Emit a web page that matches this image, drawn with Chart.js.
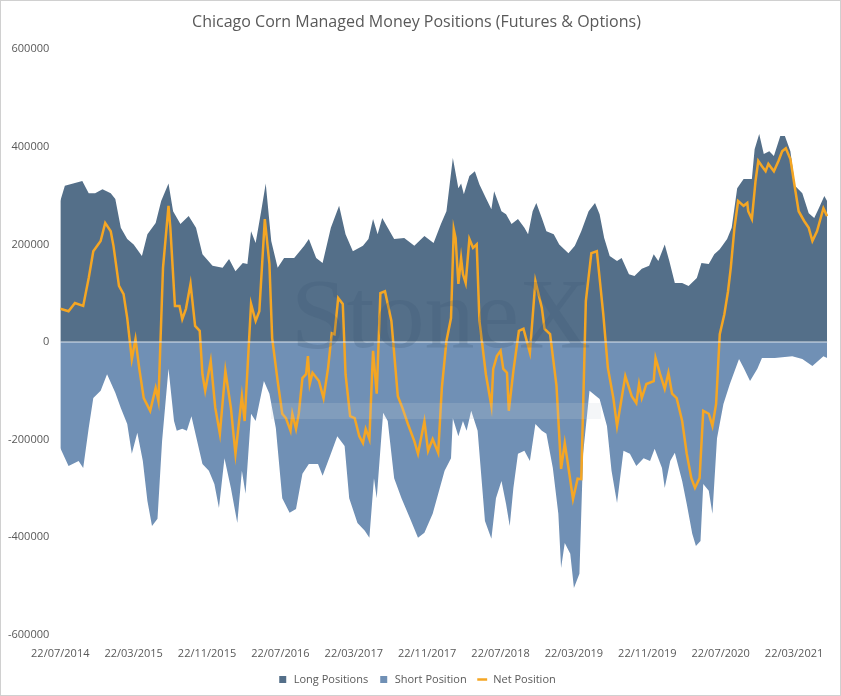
<!DOCTYPE html>
<html>
<head>
<meta charset="utf-8">
<script src="https://cdn.jsdelivr.net/npm/chart.js@4"></script>
<style>
  html, body { margin: 0; padding: 0; background: #fff; }
  #wrap { width: 839px; height: 694px; border: 1px solid #d0d0d0; }
</style>
</head>
<body>
<div id="wrap"><canvas id="chart" width="839" height="694"></canvas></div>
<script>
// x values are months since 22/07/2014
const tickLabels = ["22/07/2014", "22/03/2015", "22/11/2015", "22/07/2016", "22/03/2017", "22/11/2017",
    "22/07/2018", "22/03/2019", "22/11/2019", "22/07/2020", "22/03/2021"];

const longMonths = [0, 0.5, 1.4, 2.4, 3.1, 3.8, 4.6, 5.5, 6.0, 6.6, 7.3, 8.0, 8.9, 9.5, 10.4, 11.0, 11.8, 12.3, 13.1, 14.0,
    14.8, 15.5, 16.6, 17.7, 18.4, 19.1, 19.9, 20.4, 20.8, 21.3, 21.9, 22.4, 23.0, 23.7, 24.4, 25.5, 26.6, 27.1,
    27.9, 28.6, 29.5, 30.4, 31.1, 31.9, 33.0, 33.6, 34.1, 34.6, 35.1, 35.7, 36.4, 37.5, 38.6, 39.7, 40.7, 41.5,
    42.1, 42.8, 43.4, 43.7, 44.0, 44.6, 45.2, 45.7, 46.4, 47.0, 47.3, 48.1, 48.6, 49.2, 49.9, 50.6, 51.0, 51.5,
    51.9, 52.5, 53.0, 53.8, 54.4, 55.4, 56.1, 56.8, 57.6, 58.3, 58.8, 59.3, 59.9, 60.7, 61.2, 62.0, 62.6, 63.4,
    64.2, 64.7, 65.2, 65.9, 66.4, 67.0, 67.8, 68.5, 69.4, 69.9, 70.7, 71.3, 71.9, 72.7, 73.2, 73.8, 74.5, 75.4,
    75.7, 76.2, 76.7, 77.3, 77.8, 78.5, 79.0, 79.6, 80.1, 80.9, 81.6, 82.2, 82.7, 83.3, 83.6];
const longValues = [289, 320, 325, 330, 305, 305, 313, 305, 293, 234, 211, 200, 176, 221, 244, 289, 325, 268, 242, 258,
    234, 180, 156, 152, 170, 145, 162, 160, 227, 203, 268, 325, 207, 152, 172, 172, 197, 211,
    172, 162, 234, 279, 221, 186, 197, 211, 252, 221, 254, 234, 211, 213, 197, 217, 203, 242,
    268, 377, 315, 325, 303, 340, 350, 323, 295, 272, 309, 268, 262, 242, 252, 234, 221, 268,
    285, 254, 227, 221, 200, 182, 197, 227, 268, 285, 262, 213, 176, 166, 172, 139, 135, 150,
    156, 180, 166, 200, 166, 121, 121, 115, 131, 162, 160, 180, 190, 211, 234, 315, 334, 334,
    395, 426, 385, 391, 381, 422, 422, 391, 320, 305, 264, 254, 274, 299, 289];

const shortMonths = [0, 0.9, 2.0, 2.5, 3.1, 3.6, 4.4, 5.1, 6.0, 6.6, 7.3, 7.8, 8.4, 9.0, 9.5, 10.0, 10.6, 11.1, 11.8, 12.4,
    12.7, 13.3, 13.8, 14.3, 14.8, 15.5, 16.2, 16.8, 17.3, 17.9, 18.6, 19.3, 19.8, 20.2, 20.8, 21.3,
    22.2, 22.8, 23.5, 24.2, 25.0, 25.7, 26.4, 27.1, 28.1, 28.6, 29.5, 30.2, 31.0, 31.5, 32.4, 33.2, 33.7, 34.2,
    34.5, 35.2, 35.7, 36.4, 37.2, 38.1, 39.0, 39.7, 40.6, 41.9, 42.6,
    42.8, 43.4, 43.9, 44.3, 44.8, 45.5, 46.3, 47.0, 47.5, 48.1, 48.6, 49.0, 49.4, 49.9, 50.6, 51.2, 51.8, 52.5,
    53.0, 53.7, 54.3, 54.6, 55.0, 55.6, 56.0, 56.6, 57.0, 57.7, 58.8, 59.6, 60.1, 60.7, 61.4, 62.1, 62.8, 63.6,
    64.3, 64.8, 65.6, 65.9, 66.5, 67.0, 67.8, 68.3, 68.9, 69.3, 69.8, 70.1, 70.7, 71.1, 71.6, 72.3, 73.0, 74.0,
    74.5, 75.2, 76.0, 76.5, 77.9, 79.8, 80.9, 82.0, 83.2, 83.6];
const shortValues = [-217, -254, -244, -258, -176, -115, -100, -66, -104, -135, -168, -229, -186, -244, -326, -377, -362, -203, -55, -162,
    -182, -178, -182, -152, -193, -250, -264, -291, -340, -238, -299, -371, -264, -311, -147, -162,
    -80, -106, -176, -320, -350, -342, -270, -250, -250, -274, -229, -193, -213, -320, -371, -387, -401, -279,
    -320, -145, -162, -279, -320, -360, -401, -391, -352, -264, -238,
    -156, -193, -162, -182, -141, -182, -367, -403, -320, -285, -332, -377, -299, -229, -223, -244, -168, -182,
    -188, -258, -352, -463, -412, -434, -504, -475, -229, -100, -117, -172, -264, -330, -223, -229, -254, -238,
    -244, -219, -258, -299, -244, -227, -285, -332, -393, -418, -408, -291, -305, -352, -197, -127, -86, -35,
    -53, -80, -55, -33, -33, -29, -35, -49, -29, -33];

const netMonths = [0, 0.9, 1.6, 2.5, 3.1, 3.6, 4.4, 4.9, 5.5, 5.8, 6.4, 6.9, 7.3, 7.8, 8.2, 8.6, 9.1, 9.8, 10.4, 10.7,
    11.2, 11.8, 12.0, 12.5, 13.0, 13.3, 13.7, 14.2, 14.7, 15.2, 15.5, 15.8, 16.4, 16.9, 17.4, 18.0, 18.6, 19.1,
    19.8, 20.1, 20.8, 21.3,
    21.7, 22.3, 22.8, 23.1, 23.7, 24.2, 24.6, 25.1, 25.3, 25.7, 26.0, 26.4, 26.8, 27.0, 27.2, 27.5, 28.2, 28.7,
    29.2, 29.6, 29.9, 30.3, 30.8, 31.1, 31.6, 32.1, 32.6, 33.0, 33.3, 33.7, 34.1, 34.5, 34.9, 35.4, 36.1, 36.8,
    37.3, 37.9, 38.6, 39.0, 39.7, 40.1, 40.6, 41.2, 41.6, 42.1, 42.6,
    42.9, 43.1, 43.4, 43.7, 43.9, 44.2, 44.6, 45.0, 45.4, 45.7, 46.4, 47.0, 47.2, 47.6, 48.0, 48.3, 48.7, 48.9,
    49.4, 49.7, 50.0, 50.5, 51.2, 51.8, 52.5, 52.8, 53.4, 54.1, 54.6, 55.0, 55.5, 55.9, 56.4, 56.8, 57.3, 57.9,
    58.5, 59.2, 59.7, 60.3, 60.7, 61.1, 61.6, 62.3, 62.8, 63.1, 63.4, 63.9,
    64.7, 64.9, 65.4, 65.9, 66.3, 66.7, 67.2, 67.8, 68.3, 68.8, 69.2, 69.7, 70.1, 70.7, 71.1, 71.5, 71.9, 72.4,
    72.8, 73.1, 73.5, 73.9, 74.5, 74.9, 75.0, 75.4, 75.8, 76.1, 76.5, 76.9, 77.2, 77.8, 78.3, 78.7, 79.1, 79.6,
    80.1, 80.5, 81.1, 81.6, 82.0, 82.5, 83.2, 83.6];
const netValues = [68, 63, 80, 74, 131, 186, 207, 244, 227, 197, 115, 98, 49, -35, 6, -53, -115, -141, -94, -121,
    152, 279, 234, 74, 74, 47, 68, 119, 33, 23, -66, -100, -39, -135, -188, -59, -135, -229,
    -111, -162, 78, 43,
    63, 252, 160, 8, -80, -147, -156, -182, -147, -178, -147, -74, -66, -29, -86, -63, -80, -115,
    -53, 18, 16, 90, 78, -66, -152, -156, -193, -207, -178, -199, -18, -106, 100, 104, 43, -111,
    -135, -168, -203, -229, -162, -223, -199, -227, -94, 2, 49,
    231, 213, 119, 172, 139, 121, 211, 193, 200, 43, -66, -131, -55, -29, -18, -55, -63, -141,
    -59, -18, 23, 27, -22, 125, 70, 27, 16, -90, -260, -207, -270, -322, -280, -281, 84, 182,
    186, 57, -53, -115, -172, -127, -70, -111, -125, -86, -115, -86,
    -80, -33, -66, -96, -63, -106, -115, -162, -229, -279, -299, -279, -141, -147, -172, -127, 16, 57,
    104, 152, 234, 289, 279, 285, 268, 252, 330, 371, 360, 350, 365, 350, 371, 391, 397, 375,
    315, 268, 248, 234, 207, 227, 274, 258];

function points(months, values) {
    return months.map((m, i) => ({ x: m, y: values[i] * 1000 }));
}

const FONT = "'Open Sans', 'Noto Sans', sans-serif";
const GREY = "#595959";

// light zero line drawn over the areas
const zeroLine = {
    id: "zeroLine",
    afterDatasetsDraw(chart) {
        const { ctx, chartArea, scales } = chart;
        const y = scales.y.getPixelForValue(0);
        ctx.save();
        ctx.strokeStyle = "rgba(235,240,245,0.9)";
        ctx.lineWidth = 1;
        ctx.beginPath();
        ctx.moveTo(chartArea.left, y);
        ctx.lineTo(chartArea.right, y);
        ctx.stroke();
        ctx.restore();
    }
};

// faint watermark
const watermark = {
    id: "watermark",
    afterDatasetsDraw(chart) {
        const { ctx } = chart;
        ctx.save();
        ctx.font = "100px 'Liberation Serif', serif";
        ctx.fillStyle = "rgba(60,85,115,0.22)";
        ctx.textAlign = "center";
        ctx.textBaseline = "middle";
        ctx.fillText("StoneX", 440, 320);
        ctx.fillStyle = "rgba(200,210,220,0.2)";
        ctx.fillRect(270, 402, 330, 16);
        ctx.restore();
    }
};

new Chart(document.getElementById("chart"), {
    type: "line",
    data: {
        datasets: [
            {
                label: "Long Positions",
                data: points(longMonths, longValues),
                borderWidth: 0,
                backgroundColor: "#546f89",
                borderColor: "#546f89",
                fill: "origin",
                pointRadius: 0,
                pointStyle: "rect",
                order: 3,
            },
            {
                label: "Short Position",
                data: points(shortMonths, shortValues),
                borderWidth: 0,
                backgroundColor: "#7090b5",
                borderColor: "#7090b5",
                fill: "origin",
                pointRadius: 0,
                pointStyle: "rect",
                order: 2,
            },
            {
                label: "Net Position",
                data: points(netMonths, netValues),
                borderWidth: 2.5,
                borderColor: "#f5a623",
                backgroundColor: "#f5a623",
                fill: false,
                pointRadius: 0,
                pointStyle: "line",
                order: 1,
            },
        ],
    },
    options: {
        responsive: false,
        animation: false,
        layout: { padding: { left: 4, right: 12, top: 4, bottom: 0 } },
        plugins: {
            title: {
                display: true,
                text: "Chicago Corn Managed Money Positions (Futures & Options)",
                color: GREY,
                font: { family: FONT, size: 16, weight: "normal" },
                padding: { top: 8, bottom: 17 },
            },
            legend: {
                position: "bottom",
                labels: {
                    usePointStyle: true,
                    color: GREY,
                    font: { family: FONT, size: 11 },
                    boxWidth: 26,
                    boxHeight: 7,
                    padding: 10,
                    sort: (a, b) => a.datasetIndex - b.datasetIndex,
                },
            },
            tooltip: { enabled: false },
        },
        scales: {
            x: {
                type: "linear",
                min: 0,
                max: 83.7,
                afterBuildTicks(axis) {
                    axis.ticks = tickLabels.map((t, i) => ({ value: i * 8 }));
                },
                ticks: {
                    color: GREY,
                    font: { family: FONT, size: 11 },
                    maxRotation: 0,
                    autoSkip: false,
                    padding: 4,
                    callback: (v) => tickLabels[v / 8],
                },
                grid: { display: false },
                border: { display: false },
            },
            y: {
                min: -600000,
                max: 600000,
                ticks: {
                    stepSize: 200000,
                    color: GREY,
                    font: { family: FONT, size: 11 },
                    callback: (v) => String(v),
                },
                grid: { display: false },
                border: { display: false },
            },
        },
    },
    plugins: [zeroLine, watermark],
});
</script>
</body>
</html>
